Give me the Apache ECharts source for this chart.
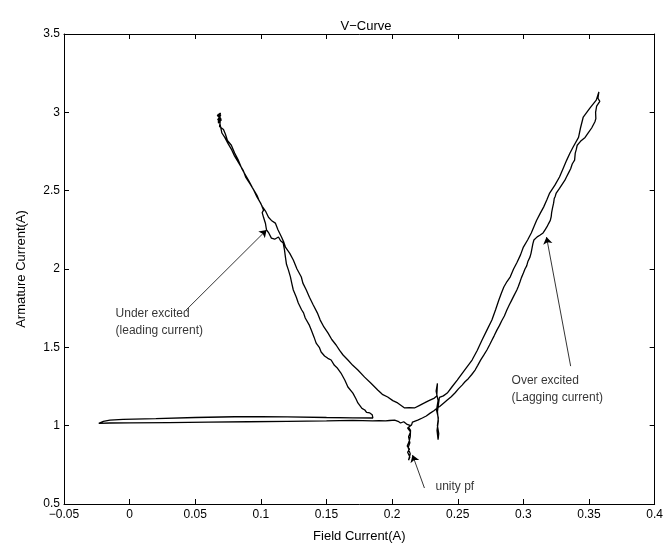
<!DOCTYPE html>
<html>
<head>
<meta charset="utf-8">
<script src="https://cdn.jsdelivr.net/npm/echarts@6/dist/echarts.min.js"></script>
<style>html,body{margin:0;padding:0;background:#fff}#c{width:666px;height:552px}</style>
</head>
<body>
<div id="c"></div>
<script>
// ---- axis ticks ----
var xTicks = [-0.05, 0, 0.05, 0.1, 0.15, 0.2, 0.25, 0.3, 0.35, 0.4];
var yTicks = [0.5, 1, 1.5, 2, 2.5, 3, 3.5];

// ---- trajectory segments [field current, armature current] ----
var rightBranchDown = [[0.3575,3.13],[0.3588,3.12],[0.3568,3.09],[0.3582,3.07],[0.3558,3.04],[0.355,3.00],[0.3552,2.96],[0.3545,2.94],[0.352,2.90],[0.3495,2.87],[0.347,2.84],[0.3435,2.815],[0.341,2.79],[0.3402,2.76],[0.3395,2.74],[0.339,2.695],[0.3372,2.67],[0.336,2.64],[0.3345,2.615],[0.333,2.59],[0.3315,2.565],[0.3295,2.54],[0.3275,2.515],[0.325,2.485],[0.3243,2.465],[0.3235,2.45],[0.323,2.42],[0.3222,2.39],[0.3215,2.36],[0.3212,2.335],[0.3205,2.31],[0.3192,2.29],[0.318,2.27],[0.3165,2.25],[0.315,2.23],[0.3125,2.215],[0.3105,2.205],[0.308,2.185],[0.3072,2.16],[0.3065,2.13],[0.3058,2.10],[0.305,2.076],[0.3035,2.05],[0.3025,2.02],[0.3012,2.00],[0.300,1.974],[0.2985,1.945],[0.2975,1.92],[0.2962,1.89],[0.295,1.866],[0.2928,1.83],[0.291,1.80],[0.2892,1.77],[0.2874,1.738],[0.2855,1.70],[0.2835,1.67],[0.2818,1.64],[0.2798,1.61],[0.2778,1.575],[0.276,1.545],[0.2742,1.515],[0.2722,1.483],[0.2698,1.45],[0.2675,1.42],[0.2652,1.385],[0.2632,1.355],[0.2605,1.325],[0.258,1.30],[0.2555,1.28],[0.2533,1.259],[0.2505,1.235],[0.248,1.21],[0.245,1.185],[0.242,1.164],[0.2398,1.148],[0.238,1.135],[0.2362,1.122],[0.2344,1.113],[0.2318,1.095],[0.229,1.08],[0.226,1.062],[0.223,1.049],[0.2195,1.035],[0.2155,1.023]];
var unitySpike = [[0.2148,1.005],[0.2125,0.99],[0.214,0.97],[0.2125,0.96],[0.2138,0.93],[0.213,0.90],[0.2115,0.87],[0.2132,0.85],[0.2118,0.83],[0.2135,0.80],[0.2125,0.78],[0.2138,0.82],[0.2122,0.86],[0.2135,0.89],[0.2125,0.93],[0.214,0.96],[0.2118,0.985],[0.214,1.0],[0.211,1.01],[0.2088,1.025],[0.2064,1.017],[0.2045,1.028],[0.2019,1.036],[0.198,1.033],[0.195,1.03],[0.19,1.032],[0.185,1.03]];
var horizontalLoop = [[0.17,1.034],[0.15,1.031],[0.12,1.028],[0.09,1.025],[0.06,1.022],[0.03,1.02],[0.0,1.018],[-0.015,1.017],[-0.0235,1.015],[-0.02,1.027],[-0.015,1.035],[-0.005,1.04],[0.02,1.045],[0.05,1.052],[0.08,1.057],[0.10,1.058],[0.12,1.056],[0.15,1.052],[0.17,1.05],[0.1853,1.049]];
var leftBranchUp = [[0.1848,1.07],[0.183,1.081],[0.1805,1.085],[0.1792,1.10],[0.177,1.11],[0.1739,1.145],[0.1725,1.17],[0.1701,1.208],[0.169,1.22],[0.1663,1.247],[0.164,1.29],[0.1625,1.30],[0.161,1.336],[0.158,1.37],[0.156,1.385],[0.1535,1.419],[0.151,1.43],[0.1485,1.445],[0.1459,1.47],[0.1445,1.50],[0.1421,1.527],[0.1405,1.565],[0.1384,1.61],[0.137,1.64],[0.1338,1.687],[0.1325,1.72],[0.131,1.74],[0.1285,1.783],[0.127,1.82],[0.1247,1.866],[0.1235,1.91],[0.1225,1.95],[0.121,1.993],[0.1195,2.03],[0.1187,2.076],[0.118,2.12],[0.117,2.166],[0.115,2.18],[0.1134,2.204],[0.1105,2.19],[0.108,2.197],[0.106,2.23],[0.1043,2.249],[0.1035,2.29],[0.102,2.33],[0.101,2.36],[0.102,2.376],[0.0998,2.421],[0.097,2.46],[0.0945,2.504],[0.092,2.54],[0.0884,2.587],[0.0865,2.63],[0.0831,2.677],[0.080,2.72],[0.0778,2.76],[0.075,2.80],[0.0725,2.84],[0.0703,2.868],[0.069,2.92],[0.068,2.97],[0.0695,2.985],[0.067,2.95],[0.069,2.975],[0.0675,2.93],[0.0695,2.96],[0.0668,2.98],[0.0692,2.995],[0.0675,2.94],[0.0698,2.95],[0.0675,2.99],[0.069,2.94]];
var leftBranchDown = [[0.0685,2.91],[0.0715,2.89],[0.073,2.86],[0.0745,2.82],[0.0775,2.79],[0.080,2.74],[0.0825,2.70],[0.0855,2.64],[0.0875,2.61],[0.091,2.56],[0.0935,2.52],[0.097,2.47],[0.0985,2.44],[0.101,2.40],[0.1035,2.37],[0.1058,2.33],[0.108,2.31],[0.111,2.293],[0.113,2.25],[0.1157,2.204],[0.1175,2.17],[0.1187,2.14],[0.122,2.10],[0.1247,2.057],[0.1275,2.00],[0.1308,1.949],[0.132,1.91],[0.1346,1.866],[0.137,1.82],[0.1399,1.77],[0.143,1.72],[0.1452,1.674],[0.148,1.63],[0.1512,1.591],[0.154,1.55],[0.1573,1.515],[0.160,1.48],[0.1626,1.451],[0.1663,1.419],[0.170,1.385],[0.1739,1.355],[0.179,1.31],[0.1837,1.272],[0.189,1.228],[0.1925,1.20],[0.1966,1.183],[0.2005,1.16],[0.2042,1.145],[0.2095,1.113],[0.213,1.115],[0.217,1.113],[0.221,1.13],[0.2246,1.145],[0.228,1.16],[0.2322,1.176]];
var secondSpike = [[0.234,1.19],[0.2345,1.27],[0.2335,1.22],[0.235,1.16],[0.2338,1.10],[0.2352,1.05],[0.2345,1.0],[0.2355,0.95],[0.235,0.91],[0.2342,0.97],[0.2352,1.03],[0.2345,1.09],[0.236,1.18]];
var rightBranchUp = [[0.239,1.19],[0.242,1.208],[0.2458,1.25],[0.2496,1.291],[0.2552,1.355],[0.2609,1.419],[0.2648,1.48],[0.2685,1.547],[0.2722,1.61],[0.276,1.674],[0.2788,1.74],[0.2813,1.802],[0.2832,1.845],[0.2851,1.885],[0.2875,1.92],[0.29,1.95],[0.2925,2.00],[0.295,2.04],[0.2978,2.09],[0.30,2.14],[0.3032,2.185],[0.306,2.23],[0.308,2.27],[0.31,2.31],[0.3128,2.355],[0.3154,2.395],[0.3178,2.44],[0.32,2.485],[0.324,2.535],[0.3275,2.587],[0.3302,2.64],[0.333,2.695],[0.3355,2.74],[0.338,2.78],[0.342,2.84],[0.3435,2.90],[0.3456,2.97],[0.3505,3.025],[0.3555,3.078],[0.3575,3.13]];

// ---- annotations ----
var annotationTexts = ['Under excited\n(leading current)', 'Over excited\n(Lagging current)', 'unity pf'];
var annotationAnchors = [[-0.0107,1.658],[0.291,1.231],[0.233,0.608]];
var arrowTails = [[0.043,1.738],[0.336,1.38],[0.2246,0.602]];
var arrowHeads = [[0.1043,2.249],[0.3176,2.204],[0.2155,0.813]];

var curve = [].concat(rightBranchDown, unitySpike, horizontalLoop, leftBranchUp, leftBranchDown, secondSpike, rightBranchUp);

function fmt(v){ var s = String(parseFloat(Number(v).toFixed(3))); return s.replace('-', '\u2212'); }
var FONT = 'Liberation Sans, Arial, Helvetica, sans-serif';

var chart = echarts.init(document.getElementById('c'), null, {renderer:'canvas'});
var axisLine = {show:true, onZero:false, lineStyle:{color:'#000', width:1}};
var tick = {show:true, inside:true, length:5, lineStyle:{color:'#000', width:1}};
chart.setOption({
  animation:false,
  backgroundColor:'#fff',
  title:{text:'V\u2212Curve', left:361, top:15, textAlign:'center', textStyle:{fontFamily:FONT, fontSize:13, fontWeight:'normal', color:'#000'}},
  grid:{left:64, right:7, top:34, bottom:48, containLabel:false},
  xAxis:[
    {type:'value', min:xTicks[0], max:xTicks[xTicks.length-1], interval:0.05, position:'bottom',
     axisLine:axisLine, axisTick:tick, splitLine:{show:false},
     axisLabel:{formatter:fmt, color:'#000', fontFamily:FONT, fontSize:12, margin:5, showMinLabel:true, showMaxLabel:true},
     name:'Field Current(A)', nameLocation:'middle', nameGap:26, nameTextStyle:{color:'#000', fontFamily:FONT, fontSize:13}},
    {type:'value', min:xTicks[0], max:xTicks[xTicks.length-1], interval:0.05, position:'top',
     axisLine:axisLine, axisTick:tick, splitLine:{show:false}, axisLabel:{show:false}}
  ],
  yAxis:[
    {type:'value', min:yTicks[0], max:yTicks[yTicks.length-1], interval:0.5, position:'left',
     axisLine:axisLine, axisTick:tick, splitLine:{show:false},
     axisLabel:{formatter:fmt, color:'#000', fontFamily:FONT, fontSize:12, margin:4, showMinLabel:true, showMaxLabel:true},
     name:'Armature Current(A)', nameLocation:'middle', nameGap:36, nameTextStyle:{color:'#000', fontFamily:FONT, fontSize:13}},
    {type:'value', min:yTicks[0], max:yTicks[yTicks.length-1], interval:0.5, position:'right',
     axisLine:axisLine, axisTick:tick, splitLine:{show:false}, axisLabel:{show:false}}
  ],
  series:[
    {type:'line', data:curve, showSymbol:false, symbol:'none', lineStyle:{color:'#000', width:1.3}, silent:true, z:3},
    {type:'lines', coordinateSystem:'cartesian2d', symbol:['none','arrow'], symbolSize:7,
     lineStyle:{color:'#000', width:0.8, opacity:1, curveness:0}, silent:true,
     data: arrowTails.map(function(t,i){ return {coords:[t, arrowHeads[i]]}; })},
    {type:'scatter', symbolSize:0, silent:true,
     data: annotationAnchors.map(function(a,i){ return {value:a, name:annotationTexts[i]}; }),
     label:{show:true, position:'right', distance:0, formatter:function(p){return p.name;}, color:'#000', fontFamily:FONT, fontSize:12, lineHeight:17, align:'left'}}
  ]
});
</script>
</body>
</html>
